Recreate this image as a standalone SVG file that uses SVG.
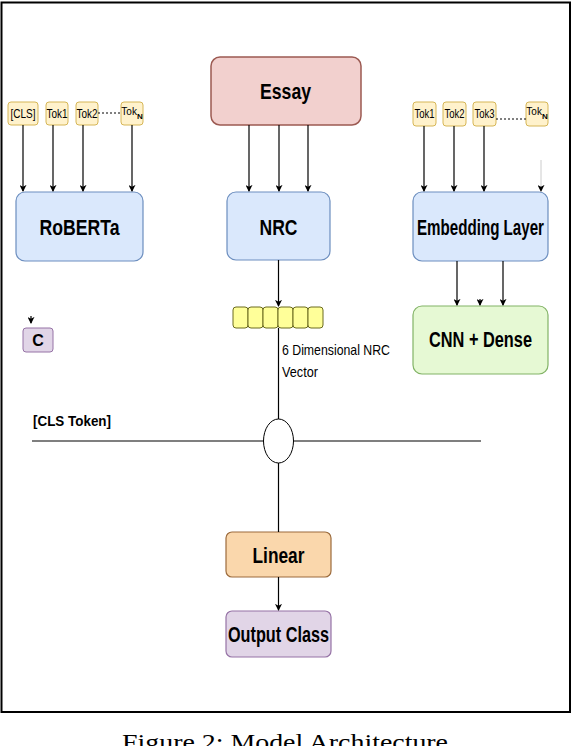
<svg xmlns="http://www.w3.org/2000/svg" width="572" height="746" viewBox="0 0 572 746">
<defs>
<marker id="ah" viewBox="0 0 8 8" refX="7" refY="4" markerWidth="7" markerHeight="7" markerUnits="userSpaceOnUse" orient="auto">
<path d="M0,0 L8,4 L0,8 L2,4 Z" fill="#000"/>
</marker>
<style>
text{font-family:"Liberation Sans",Arial,sans-serif;fill:#000}
.b{font-weight:bold}
.tok rect{fill:#fff2cc;stroke:#d6b656;stroke-width:1}
.tok text{font-size:13px;text-anchor:middle}
.blue{fill:#dae8fc;stroke:#6c8ebf;stroke-width:1.2}
.big{font-size:22px;font-weight:bold;text-anchor:middle}
.ln{stroke:#000;stroke-width:1.2;fill:none}
.ar{stroke:#000;stroke-width:1.2;fill:none;marker-end:url(#ah)}
.cell{fill:#ffff99;stroke:#6b6b1f;stroke-width:1}
.cap{font-family:"Liberation Serif","Times New Roman",serif}
</style>
</defs>
<rect x="0" y="0" width="572" height="746" fill="#fff"/>
<rect x="1.5" y="2.5" width="568.5" height="709.5" fill="none" stroke="#000" stroke-width="2"/>

<g id="essay">
<rect x="211" y="57" width="150" height="68" rx="9" fill="#f2d0ce" stroke="#9c5a52" stroke-width="1.5"/>
<text x="285.5" y="99" class="big" font-size="24" textLength="51" lengthAdjust="spacingAndGlyphs">Essay</text>
</g>

<g id="tokens-left" class="tok">
<rect x="8" y="102" width="30" height="23" rx="3"/>
<text x="23" y="118" textLength="25" lengthAdjust="spacingAndGlyphs">[CLS]</text>
<rect x="46" y="102" width="22" height="23" rx="3"/>
<text x="57" y="118" textLength="21" lengthAdjust="spacingAndGlyphs">Tok1</text>
<rect x="76" y="102" width="22" height="23" rx="3"/>
<text x="87" y="118" textLength="21" lengthAdjust="spacingAndGlyphs">Tok2</text>
<rect x="121" y="102" width="22" height="23" rx="3"/>
<text x="132" y="115" style="font-size:10px">Tok<tspan dy="4" style="font-size:8px;font-weight:bold">N</tspan></text>
</g>

<g id="tokens-right" class="tok">
<rect x="413" y="102" width="23" height="24" rx="3"/>
<text x="424.5" y="118" textLength="20" lengthAdjust="spacingAndGlyphs">Tok1</text>
<rect x="443" y="102" width="23" height="24" rx="3"/>
<text x="454.5" y="118" textLength="20" lengthAdjust="spacingAndGlyphs">Tok2</text>
<rect x="473" y="102" width="23" height="24" rx="3"/>
<text x="484.5" y="118" textLength="20" lengthAdjust="spacingAndGlyphs">Tok3</text>
<rect x="526" y="102" width="22" height="24" rx="3"/>
<text x="537" y="115" style="font-size:10px">Tok<tspan dy="4" style="font-size:8px;font-weight:bold">N</tspan></text>
</g>

<g id="roberta">
<rect x="16" y="192" width="127" height="69" rx="9" class="blue"/>
<text x="79.5" y="235" class="big" textLength="80" lengthAdjust="spacingAndGlyphs">RoBERTa</text>
</g>

<g id="nrc">
<rect x="227" y="192" width="103" height="68" rx="9" class="blue"/>
<text x="278.5" y="235" class="big" font-size="20" textLength="38" lengthAdjust="spacingAndGlyphs">NRC</text>
</g>

<g id="embedding">
<rect x="413" y="192" width="135" height="69" rx="9" class="blue"/>
<text x="480.5" y="235" class="big" font-size="15.5" textLength="127" lengthAdjust="spacingAndGlyphs">Embedding Layer</text>
</g>

<g id="nrc-vector">
<rect x="233" y="307" width="15" height="21" rx="3" class="cell"/>
<rect x="248" y="307" width="15" height="21" rx="3" class="cell"/>
<rect x="263" y="307" width="15" height="21" rx="3" class="cell"/>
<rect x="278" y="307" width="15" height="21" rx="3" class="cell"/>
<rect x="293" y="307" width="15" height="21" rx="3" class="cell"/>
<rect x="308" y="307" width="15" height="21" rx="3" class="cell"/>
<text x="282" y="355" font-size="15" textLength="108" lengthAdjust="spacingAndGlyphs">6 Dimensional NRC</text>
<text x="282" y="377" font-size="15" textLength="36" lengthAdjust="spacingAndGlyphs">Vector</text>
</g>

<g id="cnn">
<rect x="413" y="306" width="135" height="68" rx="9" fill="#e6f9d4" stroke="#82b366" stroke-width="1.2"/>
<text x="480.5" y="347" class="big" textLength="103" lengthAdjust="spacingAndGlyphs">CNN + Dense</text>
</g>

<g id="c">
<rect x="23" y="328" width="30" height="24" rx="3" fill="#e1d5e7" stroke="#9673a6" stroke-width="1"/>
<text x="38" y="346" font-size="16" class="b" text-anchor="middle">C</text>
</g>

<g id="cls-token">
<text x="33" y="426" font-size="15" class="b" textLength="78" lengthAdjust="spacingAndGlyphs">[CLS Token]</text>
</g>

<g id="concat">
<ellipse cx="278.5" cy="441" rx="15" ry="22" fill="#fff" stroke="#000" stroke-width="1"/>
</g>

<g id="linear">
<rect x="226" y="532" width="105" height="45" rx="6" fill="#fad7ac" stroke="#9c6b3c" stroke-width="1.2"/>
<text x="278.5" y="563" class="big" font-size="24" textLength="52" lengthAdjust="spacingAndGlyphs">Linear</text>
</g>

<g id="output">
<rect x="226" y="611" width="105" height="46" rx="6" fill="#e1d5e7" stroke="#9673a6" stroke-width="1.2"/>
<text x="278.5" y="642" class="big" textLength="101" lengthAdjust="spacingAndGlyphs">Output Class</text>
</g>

<g id="connectors">
<line x1="98" y1="113" x2="121" y2="113" stroke="#000" stroke-width="1" stroke-dasharray="2,2"/>
<line x1="496" y1="119" x2="526" y2="119" stroke="#000" stroke-width="1" stroke-dasharray="2,2"/>
<path class="ar" d="M23,125 V191"/>
<path class="ar" d="M53,125 V191"/>
<path class="ar" d="M83,125 V191"/>
<path class="ar" d="M132,125 V191"/>
<path class="ar" d="M249,125 V191"/>
<path class="ar" d="M279,125 V191"/>
<path class="ar" d="M308,125 V191"/>
<path class="ar" d="M424,126 V191"/>
<path class="ar" d="M454,126 V191"/>
<path class="ar" d="M484,126 V191"/>
<path d="M541,160 V191" stroke="#ccc" stroke-width="1" fill="none" marker-end="url(#ah)"/>
<path class="ar" d="M278.5,260 V306"/>
<path class="ar" d="M457,261 V305"/>
<path class="ar" d="M503,261 V305"/>
<path class="ar" d="M480,299 V305"/>
<path class="ar" d="M31,316 V323"/>
<path class="ln" d="M278.5,328 V419"/>
<path class="ln" d="M278.5,463 V532"/>
<path class="ln" d="M32,441 H263.5"/>
<path class="ln" d="M293.5,441 H481"/>
<path class="ar" d="M278.5,577 V610"/>
</g>

<text x="122" y="750" class="cap" font-size="24" textLength="326" lengthAdjust="spacingAndGlyphs">Figure 2: Model Architecture</text>
</svg>
